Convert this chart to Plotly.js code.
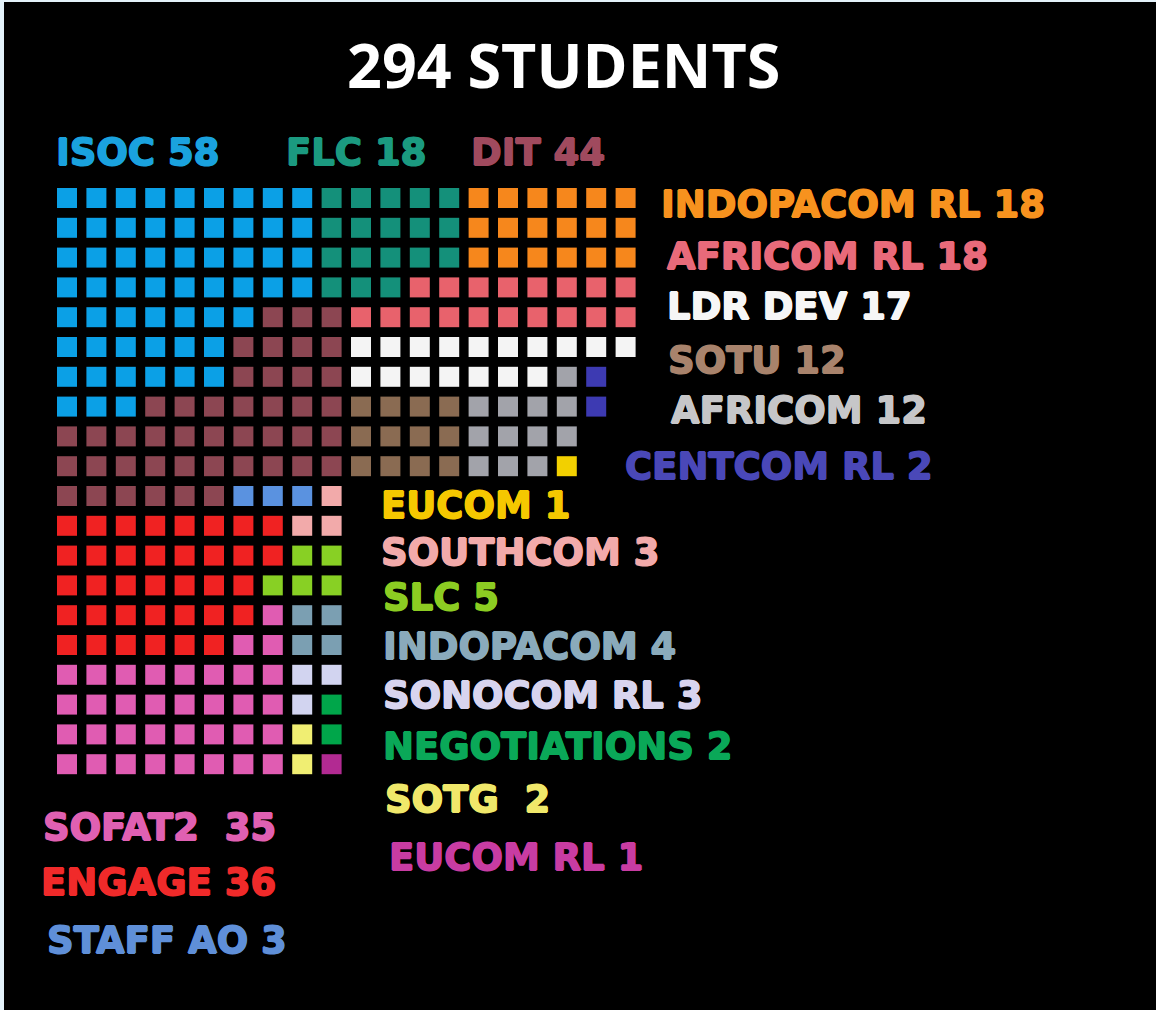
<!DOCTYPE html>
<html>
<head>
<meta charset="utf-8">
<script src="https://cdn.plot.ly/plotly-3.0.1.min.js"></script>
<style>
  html, body { margin: 0; padding: 0; background: #e4f2fa; }
  #gd { width: 1156px; height: 1010px; }
</style>
</head>
<body>
<div id="gd"></div>
<script>
// categories, one code letter each, used in the waffle map below
var codes = ["I", "F", "D", "O", "A", "W", "T", "G", "C", "E",
             "H", "L", "P", "N", "X", "Y", "M", "S", "R", "B"];
var names = ["ISOC", "FLC", "DIT", "INDOPACOM RL", "AFRICOM RL", "LDR DEV", "SOTU", "AFRICOM", "CENTCOM RL", "EUCOM",
             "SOUTHCOM", "SLC", "INDOPACOM", "SONOCOM RL", "NEGOTIATIONS", "SOTG", "EUCOM RL", "SOFAT2", "ENGAGE", "STAFF AO"];
var counts = [58, 18, 44, 18, 18, 17, 12, 12, 2, 1,
              3, 5, 4, 3, 2, 2, 1, 35, 36, 3];
var total = 294;

// waffle map, one string per row, one letter per student ("." = empty)
var waffleRows = [
  "IIIIIIIIIFFFFFOOOOOO",
  "IIIIIIIIIFFFFFOOOOOO",
  "IIIIIIIIIFFFFFOOOOOO",
  "IIIIIIIIIFFFAAAAAAAA",
  "IIIIIIIDDDAAAAAAAAAA",
  "IIIIIIDDDDWWWWWWWWWW",
  "IIIIIIDDDDWWWWWWWGC.",
  "IIIDDDDDDDTTTTGGGGC.",
  "DDDDDDDDDDTTTTGGGG..",
  "DDDDDDDDDDTTTTGGGE..",
  "DDDDDDBBBH",
  "RRRRRRRRHH",
  "RRRRRRRRLL",
  "RRRRRRRLLL",
  "RRRRRRRSPP",
  "RRRRRRSSPP",
  "SSSSSSSSNN",
  "SSSSSSSSNX",
  "SSSSSSSSYX",
  "SSSSSSSSYM"
];

// styles
var cellColors = ["#0ba0e6", "#14907a", "#8c4652", "#f6871c", "#e8626c", "#f4f4f4", "#8a6b52", "#a2a3aa", "#3d3ab2", "#f2d000",
                  "#f2aaaa", "#88d024", "#7b9fb2", "#d2d4f0", "#00a64a", "#f0ee72", "#b22a92", "#e05cb2", "#f02222", "#5a92e0"];
var labelColors = ["#1aa2de", "#1b9a80", "#a04a5e", "#f7921e", "#e86a7a", "#f6f6f6", "#a8836c", "#c6c6c8", "#4a48b8", "#f5c800",
                   "#f2aaaa", "#8ccc22", "#8aaabb", "#d8d4ee", "#0aa858", "#f0e86a", "#c83ca2", "#e060b2", "#f02a2a", "#5f8fd8"];
// label anchor (left edge, middle) in page pixels
var labelPos = [[54, 152], [284, 152], [469, 152], [659, 205], [665, 256], [665, 306], [666, 360], [669, 410], [623, 467], [379, 505],
                [379, 552], [381, 597], [381, 646], [381, 695], [381, 746], [383, 799], [387, 857], [41, 827], [39, 882], [45, 940]];
// the artwork puts a wider gap before a few of the counts
var wideGap = ["SOTG", "SOFAT2"];

var W = 1156, H = 1010;
var colPitch = 29.4, rowPitch = 29.8, x0 = 67, y0 = 198;

var traces = codes.map(function (code, k) {
  var xs = [], ys = [];
  waffleRows.forEach(function (row, r) {
    row.split("").forEach(function (ch, c) {
      if (ch === code) { xs.push(c); ys.push(r); }
    });
  });
  return {
    type: "scatter",
    mode: "markers",
    name: names[k],
    x: xs,
    y: ys,
    marker: { symbol: "square", size: 20, color: cellColors[k], line: { width: 0 } },
    hoverinfo: "name"
  };
});

function heavy(c) {
  // fake a black weight by smearing the bold glyphs a little
  return "0.8px 0 0 " + c + ", -0.8px 0 0 " + c + ", 0 0.8px 0 " + c + ", 0 -0.8px 0 " + c;
}

var annotations = names.map(function (n, k) {
  var gap = wideGap.indexOf(n) >= 0 ? "\u00a0\u00a0" : " ";
  return {
    xref: "paper", yref: "paper",
    x: labelPos[k][0] / W, y: 1 - labelPos[k][1] / H,
    xanchor: "left", yanchor: "middle",
    text: n + gap + counts[k],
    showarrow: false,
    font: { family: "DejaVu Sans", size: 37, weight: 700, color: labelColors[k], shadow: heavy(labelColors[k]) }
  };
});
annotations.push({
  xref: "paper", yref: "paper",
  x: 563 / W, y: 1 - 64 / H,
  xanchor: "center", yanchor: "middle",
  text: total + " STUDENTS",
  showarrow: false,
  font: { family: "Open Sans", size: 61, weight: 700, color: "#ffffff" }
});

var layout = {
  width: W,
  height: H,
  margin: { l: 0, r: 0, t: 0, b: 0 },
  paper_bgcolor: "#e4f2fa",
  plot_bgcolor: "rgba(0,0,0,0)",
  showlegend: false,
  xaxis: {
    range: [-x0 / colPitch, (W - x0) / colPitch],
    visible: false, fixedrange: true
  },
  yaxis: {
    range: [(H - y0) / rowPitch, -y0 / rowPitch],
    visible: false, fixedrange: true
  },
  shapes: [{
    type: "rect", xref: "paper", yref: "paper", layer: "below",
    x0: 4 / W, x1: 1, y0: 0, y1: 1 - 2 / H,
    fillcolor: "#000000", line: { width: 0 }
  }],
  annotations: annotations
};

Plotly.newPlot("gd", traces, layout, { displayModeBar: false, staticPlot: true });
</script>
</body>
</html>
